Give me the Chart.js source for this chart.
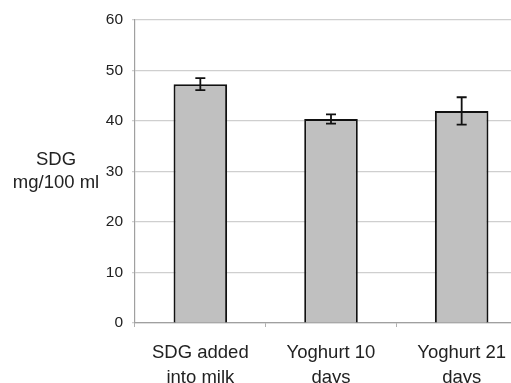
<!DOCTYPE html>
<html>
<head>
<meta charset="utf-8">
<script src="https://cdn.jsdelivr.net/npm/chart.js@4/dist/chart.umd.min.js"></script>
<style>
  html, body { margin: 0; padding: 0; background: #fff; overflow: hidden; }
  #wrap { width: 511px; height: 383px; overflow: hidden; }
</style>
</head>
<body>
<div id="wrap"><canvas id="chart" width="560" height="400"></canvas></div>
<script>
// SDG content per sample
const categories = [["SDG added", "into milk"], ["Yoghurt 10", "days"], ["Yoghurt 21", "days"]];
const means = [47.3, 40.4, 42.0];
const errors = [1.2, 0.9, 2.7];
const yTicks = [0, 10, 20, 30, 40, 50, 60];
const yTitle = ["SDG", "mg/100 ml"];

const FONT = "'Liberation Sans', Arial, sans-serif";

// draws the error bars from the data
const errorBars = {
  id: "errorBars",
  afterDatasetsDraw(chart) {
    const ctx = chart.ctx;
    const meta = chart.getDatasetMeta(0);
    const y = chart.scales.y;
    ctx.save();
    ctx.strokeStyle = "#111";
    ctx.lineWidth = 1.8;
    meta.data.forEach((bar, i) => {
      const top = y.getPixelForValue(means[i] + errors[i]);
      const bot = y.getPixelForValue(means[i] - errors[i]);
      ctx.beginPath();
      ctx.moveTo(bar.x, top);
      ctx.lineTo(bar.x, bot);
      ctx.moveTo(bar.x - 5, top);
      ctx.lineTo(bar.x + 5, top);
      ctx.moveTo(bar.x - 5, bot);
      ctx.lineTo(bar.x + 5, bot);
      ctx.stroke();
    });
    ctx.restore();
  },
};

// horizontal y axis title
const yTitlePlugin = {
  id: "yTitle",
  afterDraw(chart) {
    const ctx = chart.ctx;
    ctx.save();
    ctx.fillStyle = "#222";
    ctx.font = "18.5px " + FONT;
    ctx.textAlign = "center";
    ctx.textBaseline = "alphabetic";
    ctx.fillText(yTitle[0], 56, 165);
    ctx.fillText(yTitle[1], 56, 188);
    ctx.restore();
  },
};

new Chart(document.getElementById("chart"), {
  type: "bar",
  data: {
    labels: categories,
    datasets: [
      {
        data: means,
        backgroundColor: "#c0c0c0",
        borderColor: "#111",
        borderWidth: 2,
        categoryPercentage: 1,
        barPercentage: 0.41,
      },
    ],
  },
  options: {
    responsive: false,
    animation: false,
    layout: { padding: { top: 20, right: 33, left: 0, bottom: 0 } },
    plugins: {
      legend: { display: false },
      tooltip: { enabled: false },
    },
    scales: {
      x: {
        offset: true,
        grid: {
          offset: true,
          drawOnChartArea: false,
          tickLength: 4,
          color: "#b0b0b0",
        },
        border: { color: "#a0a0a0", width: 1.2 },
        ticks: {
          color: "#222",
          font: { family: FONT, size: 18.5, lineHeight: 1.35 },
          padding: 13,
          maxRotation: 0,
          autoSkip: false,
        },
        afterFit: (scale) => {
          scale.height = 77;
        },
      },
      y: {
        min: 0,
        max: 60,
        afterBuildTicks: (scale) => {
          scale.ticks = yTicks.map((v) => ({ value: v }));
        },
        grid: {
          color: "#cfcfcf",
          lineWidth: 1.2,
          tickLength: 3,
        },
        border: { color: "#a0a0a0", width: 1.2 },
        ticks: {
          color: "#222",
          font: { family: FONT, size: 15.5 },
          padding: 9,
        },
        afterFit: (scale) => {
          scale.width = 135;
        },
      },
    },
  },
  plugins: [errorBars, yTitlePlugin],
});
</script>
</body>
</html>
